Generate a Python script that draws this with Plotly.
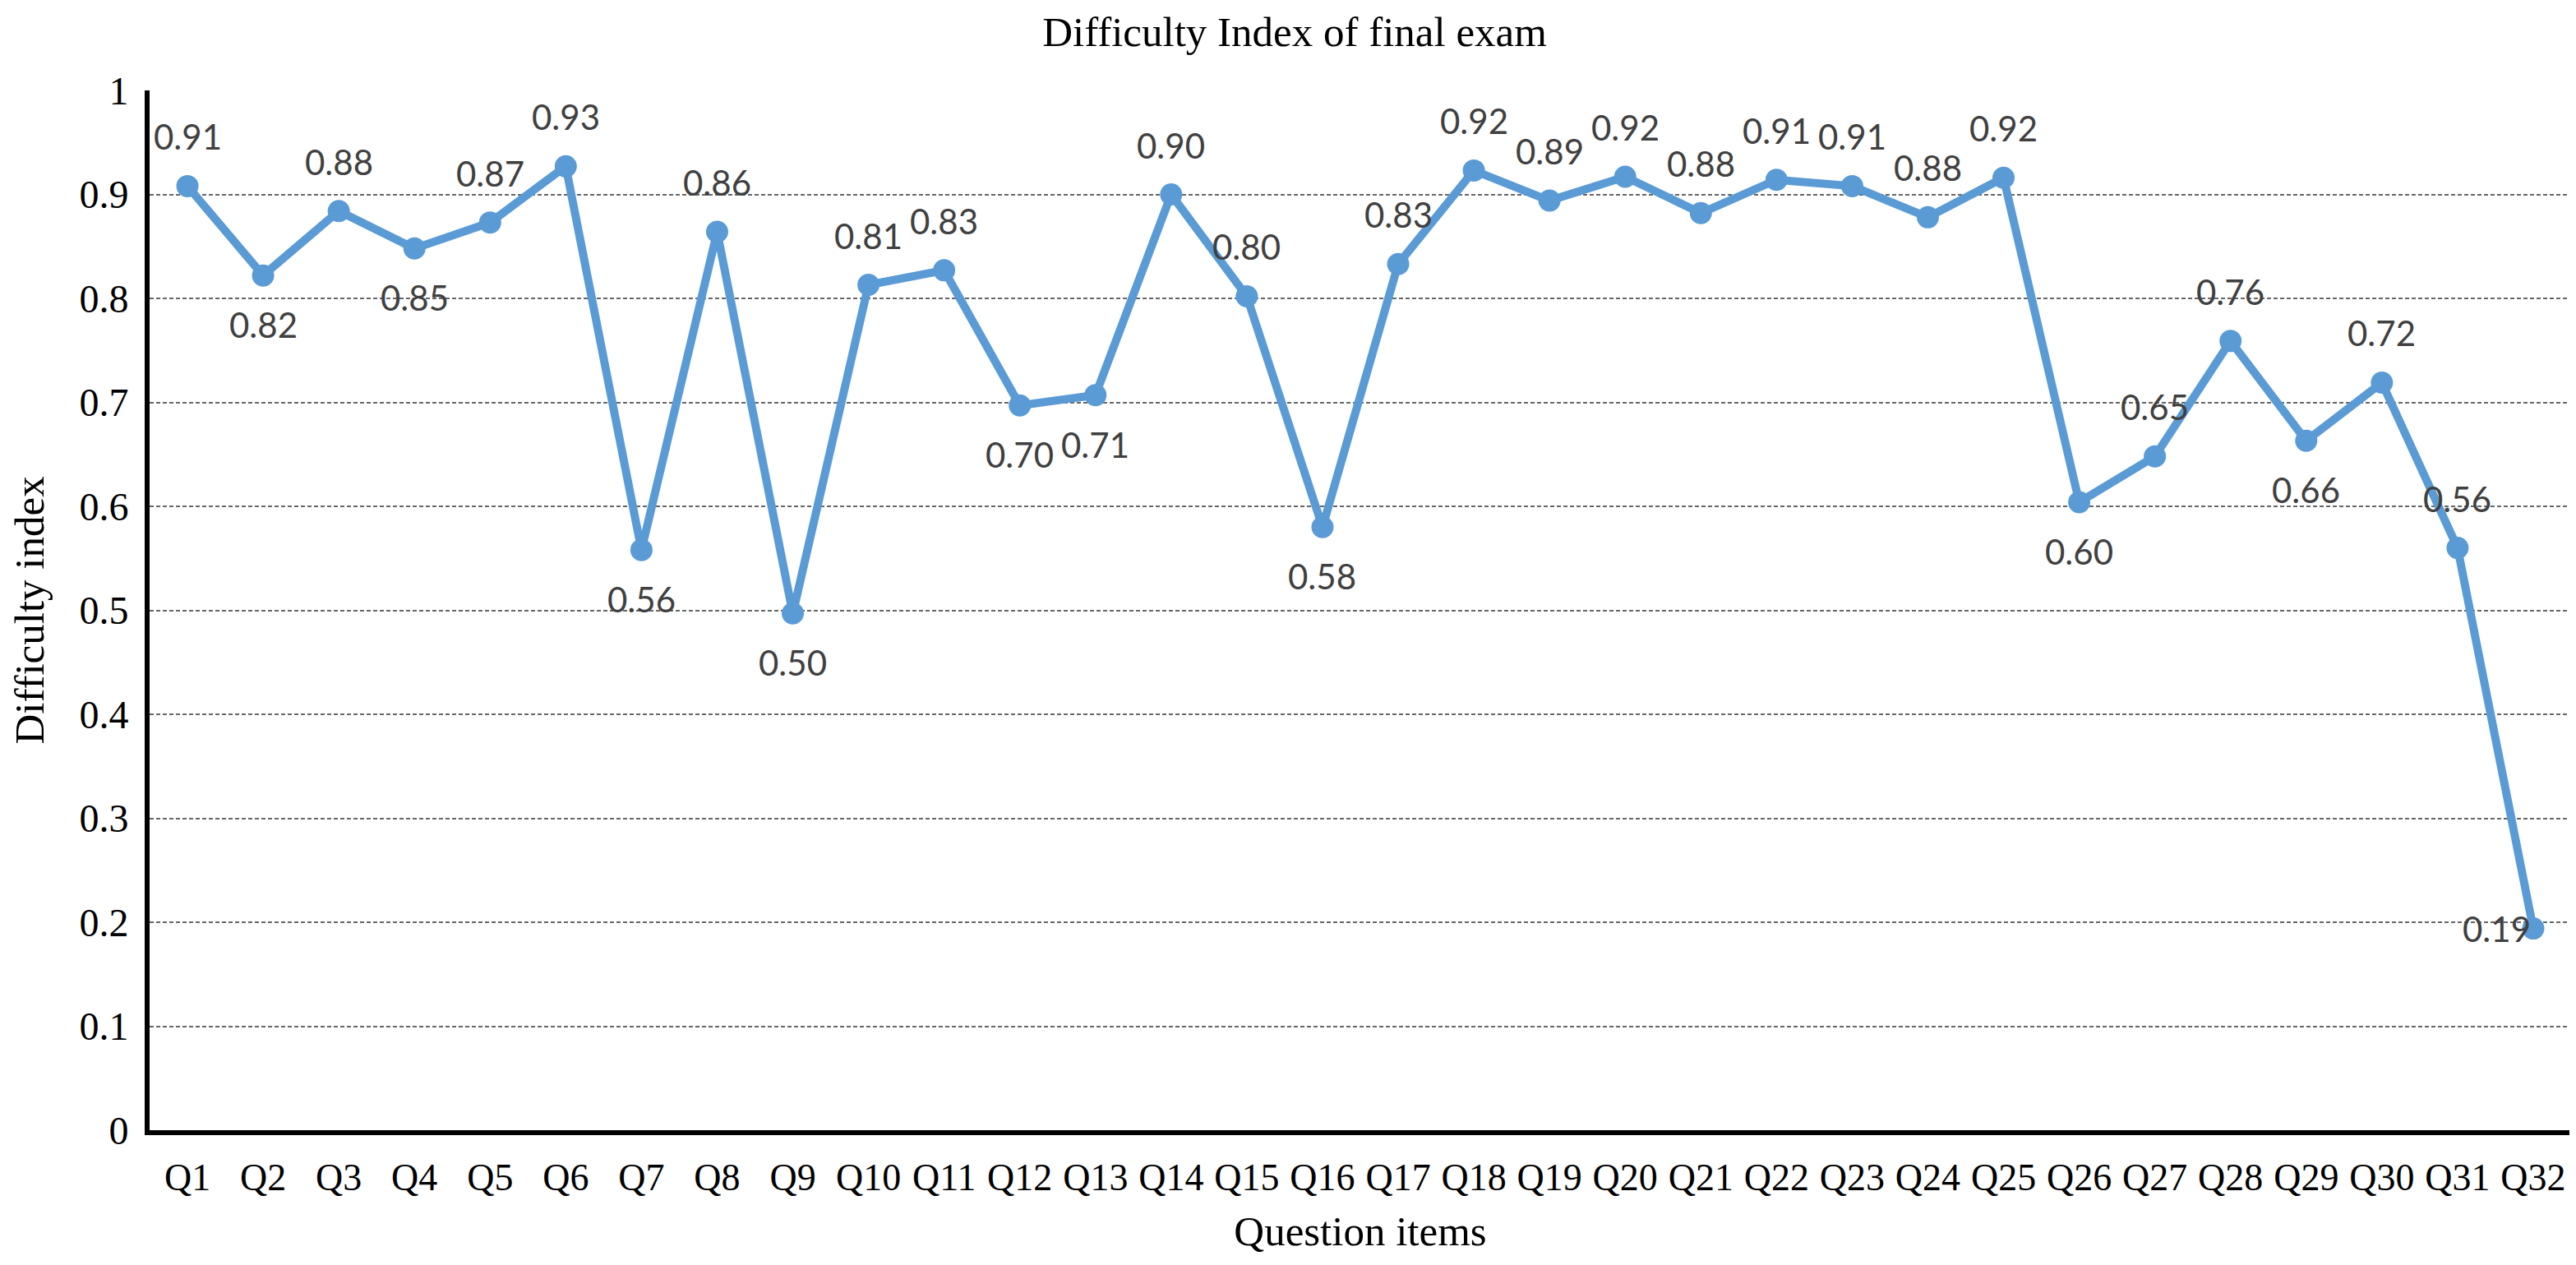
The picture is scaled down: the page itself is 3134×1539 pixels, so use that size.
import plotly.graph_objects as go

questions = [f"Q{i}" for i in range(1, 33)]
difficulty = [0.908, 0.822, 0.884, 0.848, 0.873, 0.927, 0.558, 0.864, 0.497, 0.813,
              0.827, 0.697, 0.707, 0.900, 0.802, 0.580, 0.833, 0.923, 0.894, 0.917,
              0.882, 0.914, 0.908, 0.878, 0.916, 0.604, 0.648, 0.759, 0.663, 0.719,
              0.560, 0.194]
label_pos = ["above", "below", "above", "below", "above", "above", "below", "above",
             "below", "above", "above", "below", "below", "above", "above", "below",
             "above", "above", "above", "above", "above", "above", "above", "above",
             "above", "below", "above", "above", "below", "above", "above", "left"]

line_color = "#5B9BD5"

fig = go.Figure()
fig.add_trace(go.Scatter(
    x=questions, y=difficulty, mode="lines+markers",
    line=dict(color=line_color, width=10),
    marker=dict(color=line_color, size=27),
    showlegend=False, hoverinfo="x+y",
))

for q, v, p in zip(questions, difficulty, label_pos):
    if p == "above":
        xs, ys = 0, 60
    elif p == "below":
        xs, ys = 0, -60
    else:
        xs, ys = -44, 0
    fig.add_annotation(x=q, y=v, xref="x", yref="y", text=f"{v:.2f}",
                       showarrow=False, xshift=xs, yshift=ys,
                       font=dict(family="Lato", size=42, color="#404040"))

serif = "Liberation Serif"
fig.update_layout(
    width=3134, height=1539,
    paper_bgcolor="white", plot_bgcolor="white",
    margin=dict(l=174, r=14, t=102, b=172),
    title=dict(text="Difficulty Index of final exam", x=0.5, xanchor="center",
               y=1 - 30 / 1539, yanchor="middle", yref="container",
               font=dict(family=serif, size=51, color="black")),
    xaxis=dict(
        type="category", range=[-0.5, 31.5],
        showline=True, linecolor="black", linewidth=6,
        showgrid=False, ticks="", ticklabelstandoff=12,
        tickfont=dict(family=serif, size=46, color="black"),
        title=dict(text="Question items", standoff=24,
                   font=dict(family=serif, size=51, color="black")),
        zeroline=False,
    ),
    yaxis=dict(
        range=[0, 1],
        tickvals=[0, 0.1, 0.2, 0.3, 0.4, 0.5, 0.6, 0.7, 0.8, 0.9, 1.0],
        ticktext=["0", "0.1", "0.2", "0.3", "0.4", "0.5", "0.6", "0.7", "0.8", "0.9", "1"],
        showline=True, linecolor="black", linewidth=6,
        showgrid=True, gridcolor="#666666", gridwidth=2, griddash="5px,3px",
        zeroline=False, ticks="", ticklabelstandoff=10,
        tickfont=dict(family=serif, size=48, color="black"),
        title=dict(text="Difficulty index", standoff=40,
                   font=dict(family=serif, size=51, color="black")),
    ),
)

fig.write_html("out.html")
